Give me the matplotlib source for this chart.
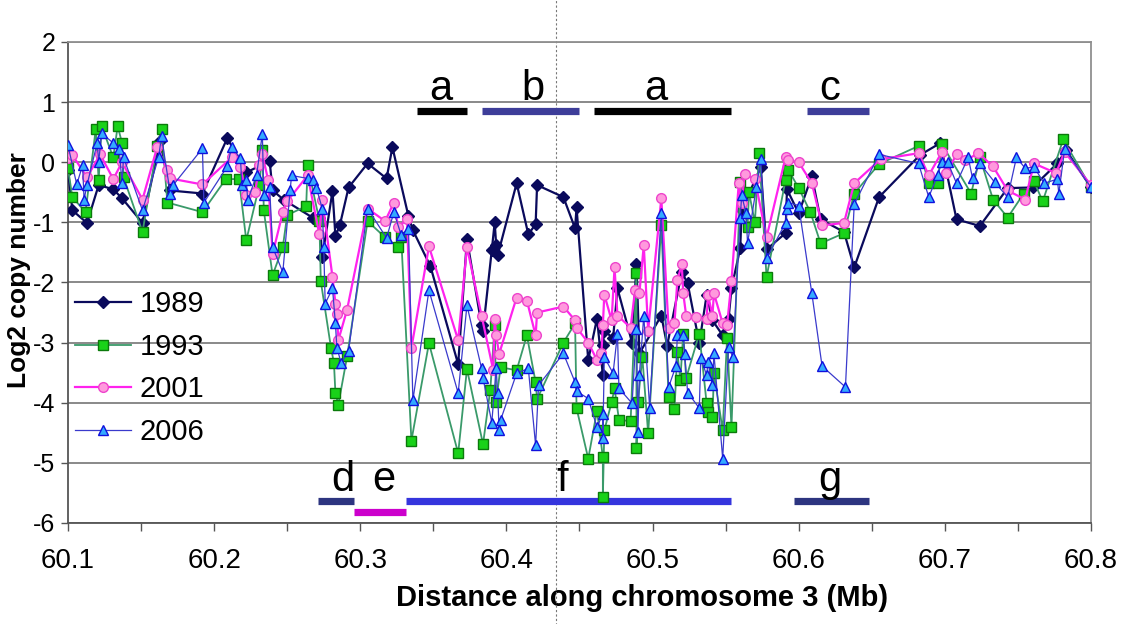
import matplotlib
matplotlib.use('Agg')
import matplotlib.pyplot as plt
import numpy as np
from matplotlib import font_manager

# ---------------- data ----------------
series_names = ['1989', '1993', '2001', '2006']

data_1989 = [(60.100,-0.13),(60.103,-0.80),(60.113,-1.01),(60.121,-0.38),(60.131,-0.45),(60.137,-0.60),
             (60.151,-1.01),(60.163,0.35),(60.170,-0.47),(60.192,-0.52),(60.209,0.40),(60.222,-0.17),
             (60.238,0.02),(60.240,-0.47),(60.248,-0.63),(60.268,-0.93),(60.272,-0.93),(60.274,-1.58),
             (60.281,-0.48),(60.283,-1.23),(60.286,-1.05),(60.292,-0.42),(60.305,-0.02),(60.318,-0.27),
             (60.322,0.25),(60.333,-0.90),(60.336,-1.13),(60.348,-1.73),(60.367,-3.36),(60.373,-1.28),
             (60.383,-2.71),(60.384,-2.80),(60.390,-1.46),(60.392,-1.00),(60.393,-1.38),(60.394,-1.55),
             (60.407,-0.35),(60.415,-1.20),(60.420,-1.03),(60.421,-0.38),(60.439,-0.58),(60.447,-1.10),
             (60.448,-0.75),(60.456,-3.29),(60.462,-2.60),(60.466,-3.54),(60.466,-3.04),(60.467,-2.80),
             (60.473,-2.93),(60.476,-2.10),(60.486,-3.00),(60.489,-1.70),(60.491,-3.18),(60.506,-2.55),
             (60.510,-3.05),(60.520,-1.83),(60.524,-2.01),(60.532,-3.01),(60.537,-2.21),(60.541,-2.63),
             (60.548,-2.88),(60.552,-2.61),(60.554,-2.10),(60.560,-1.43),(60.561,-0.80),(60.574,-0.08),
             (60.578,-1.45),(60.591,-1.18),(60.592,-0.45),(60.600,-0.85),(60.609,-0.23),(60.615,-0.95),
             (60.631,-1.16),(60.638,-1.75),(60.655,-0.58),(60.683,0.12),(60.697,0.32),(60.708,-0.95),
             (60.724,-1.06),(60.743,-0.43),(60.760,-0.42),(60.777,-0.02),(60.783,0.20),(60.800,-0.42)]

data_1993 = [(60.100,-0.10),(60.103,-0.58),(60.112,-0.83),(60.119,0.55),(60.121,-0.30),(60.123,0.60),
             (60.131,0.08),(60.134,0.60),(60.137,0.32),(60.138,-0.25),(60.151,-1.16),(60.161,0.27),
             (60.164,0.55),(60.168,-0.67),(60.192,-0.83),(60.208,-0.28),(60.217,-0.28),(60.222,-1.30),
             (60.231,-0.38),(60.233,0.20),(60.234,-0.80),(60.240,-1.88),(60.247,-1.41),(60.250,-0.88),
             (60.263,-0.73),(60.264,-0.05),(60.272,-0.97),(60.273,-1.98),(60.280,-3.09),(60.282,-3.34),
             (60.283,-3.84),(60.285,-4.03),(60.291,-3.23),(60.305,-0.98),(60.317,-1.25),(60.326,-1.41),
             (60.328,-1.25),(60.335,-4.63),(60.347,-3.01),(60.367,-4.84),(60.373,-3.44),(60.384,-4.69),
             (60.389,-3.78),(60.392,-2.71),(60.393,-3.98),(60.396,-3.41),(60.407,-3.46),(60.414,-2.88),
             (60.420,-3.66),(60.421,-3.94),(60.439,-3.00),(60.447,-2.68),(60.448,-4.09),(60.456,-4.93),
             (60.462,-4.13),(60.466,-4.91),(60.466,-5.57),(60.467,-4.46),(60.472,-3.99),(60.474,-3.76),
             (60.477,-4.28),(60.485,-4.31),(60.489,-1.85),(60.489,-4.76),(60.490,-3.99),(60.493,-3.24),
             (60.497,-4.51),(60.506,-1.05),(60.511,-3.91),(60.515,-4.11),(60.517,-3.16),(60.519,-3.63),
             (60.521,-2.85),(60.523,-3.59),(60.532,-2.85),(60.537,-4.01),(60.538,-4.16),(60.541,-4.24),
             (60.542,-3.51),(60.548,-4.46),(60.551,-2.93),(60.554,-4.41),(60.560,-0.33),(60.565,-1.08),
             (60.566,-0.50),(60.570,-1.00),(60.573,0.15),(60.578,-1.91),(60.591,-0.30),(60.593,-0.13),
             (60.600,-0.43),(60.608,-0.83),(60.615,-1.35),(60.631,-1.18),(60.638,-0.52),(60.655,-0.03),
             (60.682,0.27),(60.689,-0.35),(60.695,-0.35),(60.698,0.30),(60.718,-0.52),(60.724,0.08),
             (60.733,-0.62),(60.743,-0.92),(60.754,-0.52),(60.761,-0.32),(60.767,-0.65),(60.781,0.38),
             (60.800,-0.42)]

data_2001 = [(60.100,0.07),(60.103,0.12),(60.113,-0.25),(60.122,0.13),(60.131,-0.28),(60.137,0.00),
             (60.151,-0.62),(60.161,0.25),(60.168,-0.13),(60.170,-0.27),(60.192,-0.37),(60.212,0.08),
             (60.218,-0.08),(60.222,-0.55),(60.228,-0.50),(60.231,-0.05),(60.233,0.13),(60.237,-0.30),
             (60.240,-1.53),(60.247,-0.83),(60.250,-0.65),(60.264,-0.22),(60.272,-1.20),(60.274,-0.63),
             (60.281,-1.91),(60.283,-2.35),(60.284,-2.53),(60.285,-2.96),(60.291,-2.45),(60.305,-0.77),
             (60.317,-0.98),(60.323,-0.67),(60.326,-1.08),(60.332,-0.95),(60.335,-3.09),(60.347,-1.40),
             (60.367,-2.96),(60.373,-1.41),(60.383,-2.55),(60.391,-3.46),(60.392,-2.60),(60.393,-2.88),
             (60.395,-3.19),(60.407,-2.25),(60.414,-2.30),(60.420,-2.88),(60.421,-2.50),(60.439,-2.40),
             (60.447,-2.63),(60.448,-2.75),(60.456,-3.00),(60.462,-3.29),(60.465,-3.18),(60.466,-2.71),
             (60.467,-2.20),(60.472,-2.63),(60.474,-1.75),(60.476,-2.55),(60.485,-2.75),(60.488,-2.13),
             (60.491,-2.18),(60.494,-1.38),(60.497,-2.80),(60.506,-0.60),(60.511,-2.76),(60.515,-2.68),
             (60.517,-1.96),(60.520,-1.70),(60.521,-2.18),(60.523,-2.55),(60.530,-2.58),(60.537,-2.60),
             (60.538,-2.21),(60.541,-2.55),(60.542,-2.18),(60.548,-2.68),(60.551,-2.71),(60.554,-1.98),
             (60.559,-0.35),(60.561,-0.68),(60.563,-0.20),(60.570,-0.28),(60.578,-1.25),(60.591,0.08),
             (60.593,0.03),(60.600,0.00),(60.609,-0.35),(60.616,-1.05),(60.631,-1.01),(60.638,-0.35),
             (60.656,0.05),(60.682,0.15),(60.689,-0.22),(60.698,0.17),(60.701,-0.18),(60.708,0.13),
             (60.714,0.03),(60.723,0.15),(60.733,-0.07),(60.743,-0.47),(60.755,-0.62),(60.761,-0.02),
             (60.776,-0.18),(60.782,0.17),(60.800,-0.38)]

data_2006 = [(60.100,0.28),(60.106,-0.37),(60.110,-0.05),(60.111,-0.62),(60.113,-0.38),(60.120,0.32),
             (60.121,0.00),(60.123,0.48),(60.131,0.32),(60.135,0.22),(60.137,-0.35),(60.138,0.08),
             (60.151,-0.80),(60.162,0.08),(60.164,0.43),(60.170,-0.52),(60.172,-0.38),(60.192,0.23),
             (60.193,-0.67),(60.209,-0.07),(60.212,0.25),(60.218,0.07),(60.219,-0.38),(60.222,-0.30),
             (60.223,-0.63),(60.229,-0.22),(60.233,0.47),(60.234,-0.55),(60.238,-0.42),(60.240,-1.41),
             (60.247,-1.83),(60.252,-0.47),(60.253,-0.22),(60.264,-0.27),(60.268,-0.30),(60.270,-0.43),
             (60.274,-0.77),(60.275,-1.41),(60.276,-2.35),(60.281,-2.10),(60.283,-2.68),(60.284,-3.09),
             (60.287,-3.34),(60.292,-3.14),(60.305,-0.77),(60.318,-1.26),(60.323,-0.83),(60.328,-1.21),
             (60.333,-1.11),(60.336,-3.96),(60.347,-2.13),(60.367,-3.84),(60.373,-2.38),(60.383,-3.43),
             (60.384,-3.59),(60.390,-4.33),(60.393,-3.43),(60.394,-3.84),(60.395,-4.46),(60.396,-4.29),
             (60.407,-3.51),(60.415,-3.43),(60.420,-4.71),(60.422,-3.71),(60.439,-3.18),(60.447,-3.66),
             (60.448,-3.81),(60.456,-3.93),(60.462,-4.41),(60.466,-4.18),(60.466,-4.59),(60.467,-3.24),
             (60.473,-3.51),(60.476,-2.85),(60.477,-3.76),(60.486,-4.01),(60.489,-2.78),(60.490,-4.49),
             (60.491,-3.54),(60.494,-2.55),(60.498,-4.08),(60.506,-0.85),(60.511,-3.74),(60.516,-3.39),
             (60.517,-2.88),(60.521,-2.88),(60.522,-3.19),(60.524,-3.83),(60.532,-4.09),(60.533,-3.26),
             (60.537,-3.54),(60.538,-3.33),(60.541,-3.71),(60.542,-3.18),(60.548,-4.93),(60.552,-3.08),
             (60.555,-3.24),(60.560,-0.92),(60.561,-0.55),(60.564,-0.85),(60.565,-1.35),(60.571,-0.42),
             (60.574,0.05),(60.578,-1.60),(60.591,-1.01),(60.592,-0.77),(60.593,-0.67),(60.600,-0.72),
             (60.609,-2.18),(60.616,-3.39),(60.632,-3.74),(60.638,-0.70),(60.655,0.13),(60.682,-0.02),
             (60.689,-0.58),(60.695,-0.22),(60.698,0.00),(60.702,0.00),(60.708,-0.35),(60.716,0.08),
             (60.719,-0.27),(60.724,-0.02),(60.734,-0.33),(60.743,-0.58),(60.749,0.08),(60.755,-0.10),
             (60.761,-0.08),(60.768,-0.35),(60.777,-0.28),(60.778,-0.52),(60.782,0.22),(60.800,-0.42)]

# region bars: label, start (Mb), end (Mb), level (log2)
top_bar_labels = ['a', 'b', 'a', 'c']
top_bar_start = [60.339, 60.383, 60.460, 60.606]
top_bar_end = [60.373, 60.450, 60.554, 60.648]
top_bar_level = 0.86
bottom_bar_labels = ['d', 'e', 'f', 'g']
bottom_bar_start = [60.271, 60.296, 60.331, 60.597]
bottom_bar_end = [60.296, 60.331, 60.554, 60.648]
bottom_bar_level = [-5.64, -5.82, -5.64, -5.64]
top_label_x = [60.355, 60.418, 60.502, 60.621]
bottom_label_x = [60.288, 60.316, 60.438, 60.621]
top_label_y = 1.03
bottom_label_y = -5.46
divider_x = 60.434

x_ticks = [60.1, 60.2, 60.3, 60.4, 60.5, 60.6, 60.7, 60.8]
y_ticks = [-6, -5, -4, -3, -2, -1, 0, 1, 2]

# ---------------- fonts ----------------
avail = {f.name for f in font_manager.fontManager.ttflist}
narrow = 'Liberation Sans Narrow' if 'Liberation Sans Narrow' in avail else 'Liberation Sans'
plt.rcParams['font.family'] = [narrow, 'DejaVu Sans']

# ---------------- figure ----------------
fig = plt.figure(figsize=(11.33, 6.24), dpi=100)
ax = fig.add_axes([0.0600, 0.1619, 0.9029, 0.7708])

styles = {
    '1989': dict(color='#0a0a5c', lw=1.6, marker='D', ms=6.5, mfc='#0a0a5c', mec='#0a0a5c', mew=1.0),
    '1993': dict(color='#3a9a6a', lw=1.3, marker='s', ms=6.5, mfc='#19d219', mec='#0b7a0b', mew=1.0),
    '2001': dict(color='#ff22ee', lw=1.6, marker='o', ms=7, mfc='#ff99dd', mec='#ee44cc', mew=1.0),
    '2006': dict(color='#3a3acc', lw=0.9, marker='^', ms=7.5, mfc='#33aaff', mec='#1010dd', mew=1.0),
}
all_data = {'1989': data_1989, '1993': data_1993, '2001': data_2001, '2006': data_2006}
for i, name in enumerate(series_names):
    xs = [p[0] for p in all_data[name]]
    ys = [p[1] for p in all_data[name]]
    ax.plot(xs, ys, label=name, zorder=3 + i, **styles[name])

# bars
top_colors = ['#000000', '#3d3d99', '#000000', '#3d3d99']
bottom_colors = ['#2d3580', '#cc00cc', '#3535dd', '#2d3580']
for s, e, c in zip(top_bar_start, top_bar_end, top_colors):
    ax.plot([s, e], [top_bar_level, top_bar_level], color=c, lw=5.2, solid_capstyle='butt', zorder=2)
for s, e, lv, c in zip(bottom_bar_start, bottom_bar_end, bottom_bar_level, bottom_colors):
    ax.plot([s, e], [lv, lv], color=c, lw=5.2, solid_capstyle='butt', zorder=2)
for lab, x in zip(top_bar_labels, top_label_x):
    ax.text(x, top_label_y, lab, ha='center', va='baseline', fontsize=30, color='black', zorder=8)
for lab, x in zip(bottom_bar_labels, bottom_label_x):
    ax.text(x, bottom_label_y, lab, ha='center', va='baseline', fontsize=30, color='black', zorder=8)

ax.axvline(divider_x, ymin=-0.22, ymax=1.1, clip_on=False, color='#777777', lw=0.8,
           ls=(0, (2, 2)), zorder=1)

# axes
ax.set_xlim(60.1, 60.8)
ax.set_ylim(-6, 2)
ax.set_yticks(y_ticks)
ax.set_yticklabels([str(v) for v in y_ticks], fontsize=18)
ax.set_xticks(x_ticks)
ax.set_xticklabels([f'{v:.1f}' for v in x_ticks], fontsize=20)
ax.set_xticks(np.arange(60.15, 60.8, 0.1), minor=True)
ax.grid(axis='y', color='#808080', lw=1.3, zorder=0)
ax.set_axisbelow(True)
ax.tick_params(axis='x', which='both', direction='out', length=6, width=1, colors='#555555',
               pad=12, labelcolor='black')
ax.tick_params(axis='y', direction='out', length=5, width=1, colors='#555555', pad=4, labelcolor='black')
for sp in ['top', 'right']:
    ax.spines[sp].set_color('#909090')
    ax.spines[sp].set_linewidth(1.3)
for sp in ['left', 'bottom']:
    ax.spines[sp].set_color('#555555')
    ax.spines[sp].set_linewidth(1.3)

ax.set_xlabel('Distance along chromosome 3 (Mb)', fontsize=21, fontweight='bold', va='center')
ax.xaxis.set_label_coords(0.561, -0.156)
ax.set_ylabel('Log2 copy number', fontsize=19, fontweight='bold', va='center',
              family=['Liberation Sans', 'DejaVu Sans'])
ax.yaxis.set_label_coords(-0.048, 0.526)

ax.legend(loc='upper left', bbox_to_anchor=(0.007, 0.484), frameon=False, fontsize=21,
          handlelength=1.9, handletextpad=0.3, labelspacing=0.5, borderpad=0, borderaxespad=0)

fig.savefig('out.png', dpi=100)
